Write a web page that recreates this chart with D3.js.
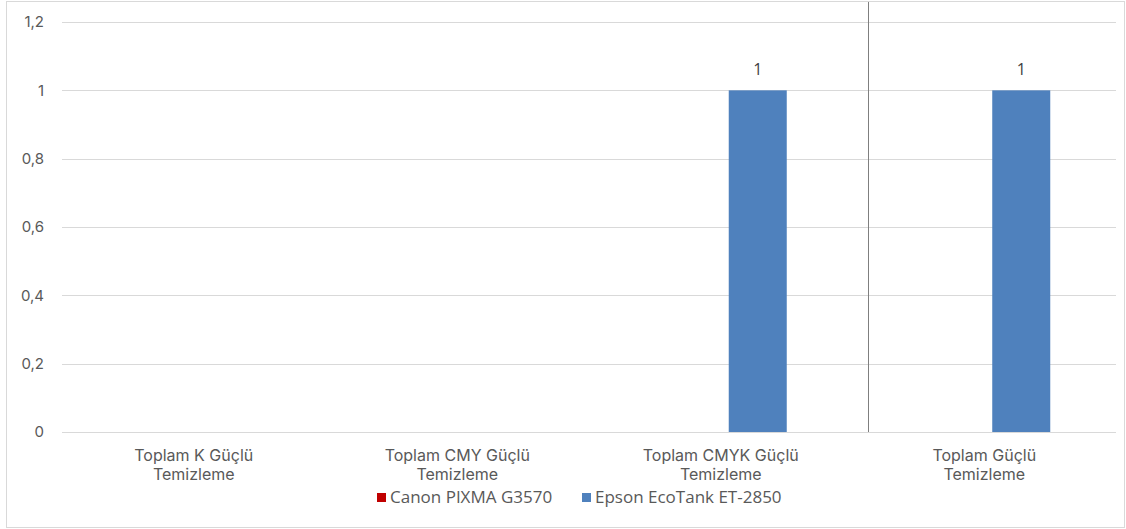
<!DOCTYPE html>
<html>
<head>
<meta charset="utf-8">
<script src="https://cdn.jsdelivr.net/npm/d3@7"></script>
<style>
  html, body { margin: 0; padding: 0; background: #fff; }
  svg { display: block; }
</style>
</head>
<body>
<svg id="chart" width="1126" height="529"></svg>
<script>
// Cleaning cycles per printer
const categories = [
  ["Toplam K Güçlü", "Temizleme"],
  ["Toplam CMY Güçlü", "Temizleme"],
  ["Toplam CMYK Güçlü", "Temizleme"],
  ["Toplam Güçlü", "Temizleme"]
];
const seriesNames = ["Canon PIXMA G3570", "Epson EcoTank ET-2850"];
const seriesColors = ["#C00000", "#4F81BD"];
const canonValues = [0, 0, 0, 0];
const epsonValues = [0, 0, 1, 1];
const yTicks = [0, 0.2, 0.4, 0.6, 0.8, 1, 1.2];

const W = 1126, H = 529;
const plot = { left: 62, right: 1116, top: 22, bottom: 432 };
const svg = d3.select("#chart");

// outer chart frame
svg.append("rect")
  .attr("x", 6.5).attr("y", 1.5)
  .attr("width", W - 8).attr("height", H - 3)
  .attr("fill", "#fff").attr("stroke", "#d9d9d9").attr("stroke-width", 1);

const catKeys = categories.map((c, i) => i);
const x = d3.scaleBand().domain(catKeys).range([plot.left, plot.right]).paddingInner(0).paddingOuter(0);
// two series side by side, centred in each category band
const bw = x.bandwidth();
const xs = d3.scaleBand().domain([0, 1]).range([bw / 2 - 66, bw / 2 + 66]).paddingInner(0.216).paddingOuter(0);
const y = d3.scaleLinear().domain([0, 1.2]).range([plot.bottom, plot.top]);

// horizontal gridlines
svg.append("g")
  .selectAll("line").data(yTicks).join("line")
  .attr("x1", plot.left).attr("x2", plot.right)
  .attr("y1", d => Math.round(y(d)) + 0.5).attr("y2", d => Math.round(y(d)) + 0.5)
  .attr("stroke", "#d9d9d9").attr("stroke-width", 1);

// y tick labels
const fmt = d => d3.format(".1~f")(d).replace(".", ",");
svg.append("g")
  .selectAll("text").data(yTicks).join("text")
  .attr("x", 44).attr("y", d => y(d))
  .attr("dy", "0.35em")
  .attr("text-anchor", "end")
  .attr("font-family", "Inter, 'Noto Sans', sans-serif")
  .attr("font-size", 15)
  .attr("fill", "#595959")
  .text(fmt);

// bars
const series = [canonValues, epsonValues];
series.forEach((vals, si) => {
  svg.append("g")
    .selectAll("rect").data(vals.map((v, i) => ({ v, i }))).join("rect")
    .attr("x", d => x(d.i) + xs(si))
    .attr("width", xs.bandwidth())
    .attr("y", d => y(d.v))
    .attr("height", d => y(0) - y(d.v))
    .attr("fill", seriesColors[si]);

  // value labels for non-zero bars
  svg.append("g")
    .selectAll("text").data(vals.map((v, i) => ({ v, i })).filter(d => d.v > 0)).join("text")
    .attr("x", d => x(d.i) + xs(si) + xs.bandwidth() / 2)
    .attr("y", d => y(d.v) - 15)
    .attr("text-anchor", "middle")
    .attr("font-family", "'Open Sans', 'Noto Sans', sans-serif")
    .attr("font-size", 16)
    .attr("fill", "#404040")
    .text(d => String(d.v).replace(".", ","));
});

// divider between the per-channel totals and the overall total
const divX = Math.round(x(3) + 15) + 0.5;
svg.append("line")
  .attr("x1", divX).attr("x2", divX)
  .attr("y1", 2).attr("y2", plot.bottom)
  .attr("stroke", "#7f7f7f").attr("stroke-width", 1);

// category labels
const catG = svg.append("g");
categories.forEach((lines, i) => {
  const t = catG.append("text")
    .attr("x", x(i) + x.bandwidth() / 2)
    .attr("y", 461)
    .attr("text-anchor", "middle")
    .attr("font-family", "Inter, 'Noto Sans', sans-serif")
    .attr("font-size", 16)
    .attr("fill", "#595959");
  lines.forEach((ln, k) => {
    t.append("tspan").attr("x", x(i) + x.bandwidth() / 2).attr("dy", k === 0 ? 0 : 19).text(ln);
  });
});

// legend
const legend = svg.append("g").attr("font-family", "'Open Sans', 'Noto Sans', sans-serif").attr("font-size", 17).attr("fill", "#595959");
const legendX = [377, 582];
seriesNames.forEach((name, i) => {
  legend.append("rect")
    .attr("x", legendX[i]).attr("y", 493)
    .attr("width", 9).attr("height", 9)
    .attr("fill", seriesColors[i]);
  legend.append("text")
    .attr("x", legendX[i] + 13).attr("y", 503)
    .text(name);
});
</script>
</body>
</html>
